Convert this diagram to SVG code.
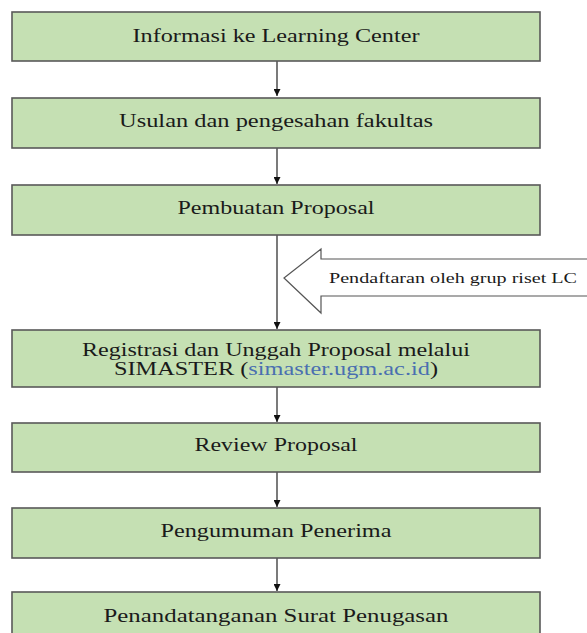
<svg xmlns="http://www.w3.org/2000/svg" width="587" height="633" viewBox="0 0 587 633">
<defs>
<style>
.box{fill:#c5e0b3;stroke:#595959;stroke-width:1.6}
.t{font-family:'Liberation Serif','Times New Roman','DejaVu Serif',serif;font-size:18.5px;fill:#1a1a1a;text-anchor:middle}
.lbl{font-family:'Liberation Serif','Times New Roman','DejaVu Serif',serif;font-size:15.5px;fill:#1a1a1a}
.link{fill:#4a6fb0}
.conn{stroke:#333;stroke-width:1.3;fill:none}
</style>
<marker id="ah" viewBox="0 0 10 10" refX="10" refY="5" markerWidth="7" markerHeight="7" markerUnits="userSpaceOnUse" orient="auto">
<path d="M0,0 L10,5 L0,10 z" fill="#111"/>
</marker>
</defs>
<rect width="587" height="633" fill="#fff"/>
<g id="connectors">
<line class="conn" x1="277" y1="61" x2="277" y2="96" marker-end="url(#ah)"/>
<line class="conn" x1="277" y1="148" x2="277" y2="184" marker-end="url(#ah)"/>
<line class="conn" x1="277" y1="235" x2="277" y2="329" marker-end="url(#ah)"/>
<line class="conn" x1="277" y1="387" x2="277" y2="422" marker-end="url(#ah)"/>
<line class="conn" x1="277" y1="472" x2="277" y2="507" marker-end="url(#ah)"/>
<line class="conn" x1="277" y1="558" x2="277" y2="591" marker-end="url(#ah)"/>
</g>
<g id="n1"><rect class="box" x="12" y="12" width="528" height="49"/><text class="t" x="276" y="42" textLength="287" lengthAdjust="spacingAndGlyphs">Informasi ke Learning Center</text></g>
<g id="n2"><rect class="box" x="12" y="98" width="528" height="50"/><text class="t" x="276" y="127" textLength="314" lengthAdjust="spacingAndGlyphs">Usulan dan pengesahan fakultas</text></g>
<g id="n3"><rect class="box" x="12" y="185" width="528" height="50"/><text class="t" x="276" y="214" textLength="197" lengthAdjust="spacingAndGlyphs">Pembuatan Proposal</text></g>
<g id="side"><path d="M284,278 L321,249 L321,259 L600,259 L600,296 L321,296 L321,313 Z" fill="#fff" stroke="#555" stroke-width="1.2"/><text class="lbl" x="329" y="283" textLength="248" lengthAdjust="spacingAndGlyphs">Pendaftaran oleh grup riset LC</text></g>
<g id="n4"><rect class="box" x="12" y="330" width="528" height="57"/><text class="t" x="276" y="356" textLength="388" lengthAdjust="spacingAndGlyphs">Registrasi dan Unggah Proposal melalui</text><text class="t" x="276" y="375" textLength="324" lengthAdjust="spacingAndGlyphs">SIMASTER (<tspan class="link">simaster.ugm.ac.id</tspan>)</text></g>
<g id="n5"><rect class="box" x="12" y="423" width="528" height="49"/><text class="t" x="276" y="451" textLength="163" lengthAdjust="spacingAndGlyphs">Review Proposal</text></g>
<g id="n6"><rect class="box" x="12" y="508" width="528" height="50"/><text class="t" x="276" y="537" textLength="231" lengthAdjust="spacingAndGlyphs">Pengumuman Penerima</text></g>
<g id="n7"><rect class="box" x="12" y="592" width="528" height="60"/><text class="t" x="276" y="622" textLength="345" lengthAdjust="spacingAndGlyphs">Penandatanganan Surat  Penugasan</text></g>
</svg>
